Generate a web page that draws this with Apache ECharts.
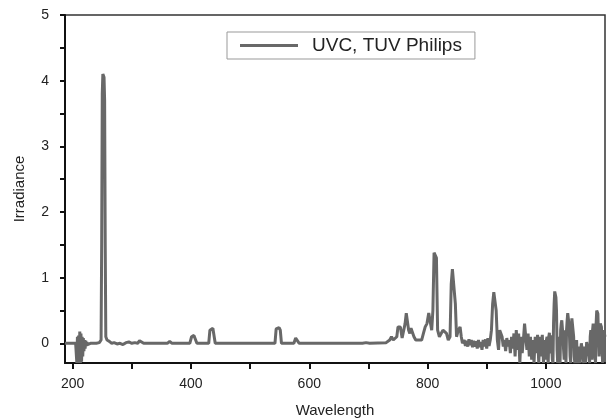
<!DOCTYPE html>
<html>
<head>
<meta charset="utf-8">
<script src="https://cdn.jsdelivr.net/npm/echarts@6/dist/echarts.min.js"></script>
<style>
  html, body { margin: 0; padding: 0; background: #fff; }
  #chart { width: 607px; height: 418px; }
</style>
</head>
<body>
<div id="chart"></div>
<script>
// spectrum: wavelength (nm) and irradiance
const wavelength = [
  187, 205, 206, 207, 208, 209, 210, 211, 212, 213, 214, 215, 216, 217, 218, 219, 220, 221, 222, 223, 224, 225, 226,
  230, 240, 245, 248, 249, 250, 251, 252, 253, 254, 255, 256, 258, 262, 266, 270, 275, 280, 285, 290, 295, 300, 305,
  310, 313, 316, 320, 340, 360, 364, 368, 398, 401, 405, 408, 410, 430, 432, 434, 437, 439, 441, 542, 544, 546, 549,
  551, 553, 574, 577, 580, 583, 690, 693, 696, 699, 702, 730, 736, 739, 742, 745, 748, 750, 752, 754, 757, 759, 762,
  764, 766, 768, 770, 772, 775, 777, 780, 785, 790, 793, 796, 799, 802, 804, 807, 809, 811, 813, 815, 817, 820, 823,
  826, 829, 832, 835, 838, 840, 842, 845, 847, 849, 852, 855, 857, 859, 862, 864, 866, 868, 870, 872, 874, 876, 878,
  880, 882, 884, 886, 888, 890, 892, 894, 896, 898, 900, 902, 904, 906, 908, 910, 912, 914, 916, 918, 920, 922, 924,
  926, 928, 930, 932, 934, 936, 938, 940, 942, 944, 946, 948, 950, 952, 954, 956, 958, 960, 962, 964, 966, 968, 970,
  972, 974, 976, 978, 980, 982, 984, 986, 988, 990, 992, 994, 996, 998,
  1000, 1001, 1002, 1003, 1004, 1005, 1006, 1007, 1008, 1009, 1010, 1011, 1012, 1013, 1014, 1015, 1016, 1017, 1018, 1019,
  1020, 1021, 1022, 1023, 1024, 1025, 1026, 1027, 1028, 1029, 1030, 1031, 1032, 1033, 1034, 1035, 1036, 1037, 1038, 1039,
  1040, 1041, 1042, 1043, 1044, 1045, 1046, 1047, 1048, 1049, 1050, 1051, 1052, 1053, 1054, 1055, 1056, 1057, 1058, 1059,
  1060, 1061, 1062, 1063, 1064, 1065, 1066, 1067, 1068, 1069, 1070, 1071, 1072, 1073, 1074, 1075, 1076, 1077, 1078, 1079,
  1080, 1081, 1082, 1083, 1084, 1085, 1086, 1087, 1088, 1089, 1090, 1091, 1092, 1093, 1094, 1095, 1096, 1097, 1098, 1099,
  1100
];
const irradiance = [
  0, 0, 0, -0.3, 0.1, -0.3, 0.12, -0.3, 0.18, -0.3, 0.15, -0.28, 0.1, -0.2, 0.08, -0.12, 0.05, -0.08, 0.04, -0.04, 0.02, -0.02, 0.01,
  0, 0, 0.01, 0.05, 1.5, 3.8, 4.1, 4.1, 4.05, 3.7, 1.5, 0.1, 0.05, 0.03, 0, 0.01, -0.01, 0, -0.02, 0.01, 0.02, 0, 0.01,
  0, 0.04, 0.01, 0, 0, 0, 0.03, 0, 0, 0.1, 0.12, 0.1, 0, 0, 0.2, 0.23, 0.23, 0.2, 0, 0, 0.22, 0.25, 0.24,
  0.2, 0, 0, 0.08, 0.08, 0, 0, 0.02, 0.01, 0.02, 0, 0.01, 0.05, 0.1, 0.05, 0.03, 0.1, 0.25, 0.28, 0.25, 0.08, 0.05, 0.3,
  0.46, 0.45, 0.2, 0.15, 0.23, 0.22, 0.1, 0.05, 0.05, 0.05, 0.15, 0.25, 0.3, 0.46, 0.44, 0.2, 0.5, 1.38, 1.39, 1.3, 0.2, 0.1, 0.1,
  0.2, 0.23, 0.15, 0.05, 0.1, 0.9, 1.13, 1.13, 0.6, 0.1, 0.2, 0.25, 0.1, 0, 0.05, -0.04, 0.04, -0.05, 0.06, -0.03, 0.05, -0.06, 0.04,
  -0.05, 0.03, -0.08, 0.05, -0.06, 0.02, -0.1, 0.05, -0.05, 0.06, -0.08, 0.08, -0.04, 0.05, 0.2, 0.6, 0.78, 0.79, 0.5, 0.05, -0.1, 0.2, 0.23,
  0.1, -0.05, 0.05, -0.12, 0.08, -0.05, 0.05, -0.15, 0.1, -0.08, 0.15, -0.2, 0.2, -0.1, 0.15, -0.3, 0.1, -0.15, 0.05, 0.3, 0.33, -0.1, 0.15,
  -0.2, 0.1, -0.25, 0.05, -0.3, 0.1, -0.15, 0.13, -0.3, 0.1, -0.2, 0.13, -0.3, 0.05,
  -0.25, 0.05, 0.1, -0.2, -0.3, 0.1, 0.16, -0.15, -0.1, 0.12, 0.1, -0.25, -0.3, 0.3, 0.6, 0.79, 0.78, 0.7, 0.5, -0.1,
  -0.3, 0.05, 0.1, -0.2, -0.3, 0.2, 0.3, 0.35, 0.35, 0.1, -0.1, -0.25, 0.2, 0.1, -0.3, 0.2, 0.35, 0.46, 0.46, 0.3,
  0.1, -0.2, -0.3, 0.2, 0.38, 0.4, 0.4, 0.1, -0.2, -0.3, -0.3, -0.1, 0.05, -0.2, -0.3, -0.05, -0.1, -0.25, -0.3, -0.1,
  0, -0.03, -0.03, -0.2, -0.3, -0.05, -0.1, -0.3, -0.3, 0.02, 0.05, 0.05, 0.02, -0.2, -0.3, 0.1, 0.2, -0.1, -0.25, 0.2,
  0.3, 0.3, 0.1, -0.2, -0.3, 0.3, 0.5, 0.5, 0.45, 0.1, -0.2, 0.1, 0.3, 0.3, 0.25, -0.1, -0.3, 0.05, 0.2, 0.15,
  0.1
];
const xTicks = [200, 300, 400, 500, 600, 700, 800, 900, 1000];
const xLabels = [200, 400, 600, 800, 1000];
const yTicks = [0, 0.5, 1, 1.5, 2, 2.5, 3, 3.5, 4, 4.5, 5];
const yLabels = [0, 1, 2, 3, 4, 5];

const font = '"Liberation Sans", Arial, sans-serif';
const data = wavelength.map((w, i) => [w, irradiance[i]]);

const chart = echarts.init(document.getElementById('chart'));
chart.setOption({
  animation: false,
  backgroundColor: '#fff',
  grid: {
    left: 65, right: 2, top: 15, bottom: 55,
    outerBoundsMode: 'none', containLabel: false,
    show: true, borderColor: '#333', borderWidth: 1.5
  },
  legend: {
    left: 227, top: 32,
    padding: [4, 13, 4, 13],
    borderColor: '#999', borderWidth: 1,
    icon: 'rect',
    itemWidth: 58, itemHeight: 3,
    textStyle: { fontFamily: font, fontSize: 19, color: '#222', padding: [0, 0, 0, 9] },
    data: ['UVC, TUV Philips']
  },
  xAxis: {
    type: 'value', min: 187, max: 1100,
    name: 'Wavelength', nameLocation: 'middle', nameGap: 40,
    nameTextStyle: { fontFamily: font, fontSize: 15, color: '#222' },
    axisLine: { show: true, onZero: false, lineStyle: { color: '#111', width: 2 } },
    axisTick: { show: true, length: 6, lineStyle: { color: '#111', width: 2 }, customValues: xTicks },
    axisLabel: {
      fontFamily: font, fontSize: 14, color: '#222', margin: 14, customValues: xLabels,
      formatter: v => String(v)
    },
    splitLine: { show: false }
  },
  yAxis: {
    type: 'value', min: -0.3, max: 5,
    name: 'Irradiance', nameLocation: 'middle', nameGap: 38, nameRotate: 90,
    nameTextStyle: { fontFamily: font, fontSize: 15, color: '#222' },
    axisLine: { show: true, onZero: false, lineStyle: { color: '#111', width: 2 } },
    axisTick: { show: true, length: 5, lineStyle: { color: '#111', width: 2 }, customValues: yTicks },
    axisLabel: { fontFamily: font, fontSize: 14, color: '#222', margin: 16, customValues: yLabels },
    splitLine: { show: false }
  },
  series: [{
    name: 'UVC, TUV Philips',
    type: 'line',
    data: data,
    symbol: 'none',
    clip: true,
    lineStyle: { color: '#686868', width: 3 },
    itemStyle: { color: '#686868' }
  }]
});
</script>
</body>
</html>
